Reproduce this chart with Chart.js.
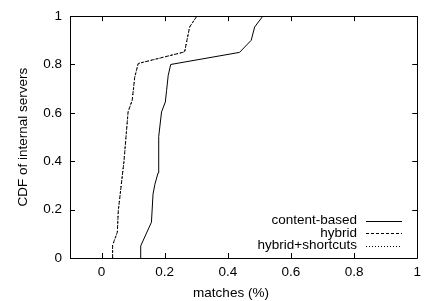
<!DOCTYPE html>
<html>
<head>
<meta charset="utf-8">
<script src="https://cdn.jsdelivr.net/npm/chart.js@4/dist/chart.umd.min.js"></script>
<style>
  html, body { margin: 0; padding: 0; background: #fff; }
  #wrap { width: 427px; height: 301px; }
</style>
</head>
<body>
<div id="wrap"><canvas id="c" width="427" height="301"></canvas></div>
<script>
// values
var contentX = [0.124, 0.124, 0.158, 0.163, 0.169, 0.179, 0.181, 0.190, 0.202, 0.206, 0.211, 0.219, 0.437, 0.474, 0.485, 0.511];
var contentY = [0, 0.05, 0.148, 0.264, 0.305, 0.352, 0.502, 0.604, 0.645, 0.693, 0.754, 0.80, 0.85, 0.90, 0.955, 1.0];
var hybridX = [0.035, 0.035, 0.050, 0.053, 0.071, 0.084, 0.097, 0.105, 0.116, 0.263, 0.279, 0.302];
var hybridY = [0, 0.053, 0.107, 0.196, 0.40, 0.604, 0.652, 0.747, 0.804, 0.852, 0.955, 1.0];
var shortcutsX = [0.035, 0.035, 0.050, 0.053, 0.071, 0.084, 0.097, 0.105, 0.116, 0.263, 0.279, 0.302];
var shortcutsY = [0, 0.053, 0.107, 0.196, 0.40, 0.604, 0.652, 0.747, 0.804, 0.852, 0.955, 1.0];
var seriesNames = ['content-based', 'hybrid', 'hybrid+shortcuts'];
var xTicks = [0, 0.2, 0.4, 0.6, 0.8, 1];
var yTicks = [0, 0.2, 0.4, 0.6, 0.8, 1];
var xTitle = 'matches (%)';
var yTitle = 'CDF of internal servers';

var FONT = '13.5px "Liberation Sans", Arial, Helvetica, sans-serif';

function pts(xs, ys) {
  return xs.map(function(x, i) { return {x: x, y: ys[i]}; });
}

// gnuplot style frame: box, inward ticks on all sides, titles, legend
var gnuplotFrame = {
  id: 'gnuplotFrame',
  afterDraw: function(chart) {
    var ctx = chart.ctx, a = chart.chartArea;
    var xs = chart.scales.x, ys = chart.scales.y;
    ctx.save();
    ctx.strokeStyle = '#000';
    ctx.lineWidth = 1;
    ctx.beginPath();
    ctx.rect(Math.round(a.left) + 0.5, Math.round(a.top) + 0.5, Math.round(a.right - a.left), Math.round(a.bottom - a.top));
    ctx.stroke();
    var tl = 5;
    ctx.beginPath();
    xTicks.forEach(function(v) {
      var px = Math.round(xs.getPixelForValue(v)) + 0.5;
      ctx.moveTo(px, a.bottom); ctx.lineTo(px, a.bottom - tl);
      ctx.moveTo(px, a.top); ctx.lineTo(px, a.top + tl);
    });
    yTicks.forEach(function(v) {
      var py = Math.round(ys.getPixelForValue(v)) + 0.5;
      ctx.moveTo(a.left, py); ctx.lineTo(a.left + tl, py);
      ctx.moveTo(a.right, py); ctx.lineTo(a.right - tl, py);
    });
    ctx.stroke();

    ctx.fillStyle = '#000';
    ctx.font = FONT;
    // axis titles
    ctx.textAlign = 'center';
    ctx.textBaseline = 'middle';
    ctx.fillText(xTitle, 231, 293);
    ctx.save();
    ctx.translate(23, (a.top + a.bottom) / 2);
    ctx.rotate(-Math.PI / 2);
    ctx.fillText(yTitle, 0, 0);
    ctx.restore();

    // legend
    var ly = [220.5, 233, 245.5];
    chart.data.datasets.forEach(function(ds, i) {
      ctx.textAlign = 'right';
      ctx.fillText(ds.label, 357, ly[i]);
      ctx.beginPath();
      ctx.setLineDash(ds.borderDash || []);
      ctx.lineWidth = ds.borderWidth;
      ctx.moveTo(366, Math.round(ly[i]) + 0.5);
      ctx.lineTo(402, Math.round(ly[i]) + 0.5);
      ctx.stroke();
    });
    ctx.restore();
  }
};

new Chart(document.getElementById('c'), {
  type: 'scatter',
  data: {
    datasets: [
      { label: seriesNames[0], data: pts(contentX, contentY), showLine: true, borderColor: '#000', borderWidth: 1, pointRadius: 0, tension: 0 },
      { label: seriesNames[1], data: pts(hybridX, hybridY), showLine: true, borderColor: '#000', borderWidth: 1, borderDash: [3, 2], pointRadius: 0, tension: 0 },
      { label: seriesNames[2], data: pts(shortcutsX, shortcutsY), showLine: true, borderColor: '#000', borderWidth: 1, borderDash: [1, 2], pointRadius: 0, tension: 0 }
    ]
  },
  plugins: [gnuplotFrame],
  options: {
    responsive: false,
    animation: false,
    devicePixelRatio: 1,
    layout: { padding: { left: 0, right: 9, top: 13, bottom: 0 } },
    plugins: { legend: { display: false }, tooltip: { enabled: false } },
    scales: {
      x: {
        type: 'linear', min: -0.1, max: 1,
        grid: { display: false, drawTicks: false },
        border: { display: false },
        afterBuildTicks: function(s) { s.ticks = xTicks.map(function(v) { return {value: v}; }); },
        afterFit: function(s) { s.height = 43; },
        ticks: { padding: 6, color: '#000', font: { family: '"Liberation Sans", Arial, sans-serif', size: 13.5 },
          maxRotation: 0, autoSkip: false,
          callback: function(v) { return String(Math.round(v * 10) / 10); } }
      },
      y: {
        type: 'linear', min: 0, max: 1,
        grid: { display: false, drawTicks: false },
        border: { display: false },
        afterBuildTicks: function(s) { s.ticks = yTicks.map(function(v) { return {value: v}; }); },
        afterFit: function(s) { s.width = 70; },
        ticks: { padding: 8, color: '#000', font: { family: '"Liberation Sans", Arial, sans-serif', size: 13.5 },
          autoSkip: false,
          callback: function(v) { return String(Math.round(v * 10) / 10); } }
      }
    }
  }
});
</script>
</body>
</html>
